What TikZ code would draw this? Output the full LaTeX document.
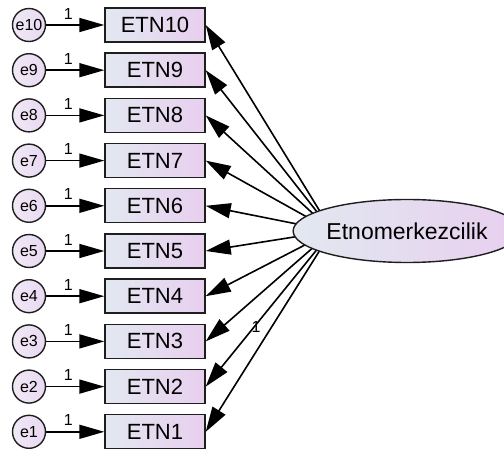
\documentclass[tikz,border=0pt]{standalone}
\usepackage{fontspec}
\setmainfont{Liberation Sans}
\usetikzlibrary{positioning,arrows.meta,shapes.geometric,backgrounds}
\definecolor{etnBlue}{HTML}{E2E8F0}
\definecolor{etnPink}{HTML}{E8CFEF}
\definecolor{errFill}{HTML}{E8D9F1}
\definecolor{lineGray}{HTML}{1E1E1E}

\tikzset{
  item/.style={rectangle, draw=lineGray, line width=1.4pt, minimum width=100pt, minimum height=34pt,
    inner sep=0pt, left color=etnBlue, right color=etnPink, font=\fontsize{22}{22}\selectfont},
  err/.style={circle, draw=lineGray, line width=1.4pt, minimum size=33pt, inner sep=0pt,
    left color=errFill!60!white, right color=errFill, font=\fontsize{16}{16}\selectfont},
  factor/.style={ellipse, draw=lineGray, line width=1.4pt, minimum width=191pt, minimum height=63pt,
    inner sep=0pt, left color=etnBlue, right color=etnPink, font=\fontsize{23}{23}\selectfont},
  load/.style={-{Triangle[length=25pt,width=15pt]}, line width=1.6pt, draw=black},
  resid/.style={-{Triangle[length=25pt,width=14pt]}, line width=1.6pt, draw=black},
  one/.style={font=\fontsize{16}{16}\selectfont, inner sep=1pt},
}

\begin{document}
\begin{tikzpicture}[x=1pt, y=1pt, node distance=45.2pt]
  \useasboundingbox (0,0) rectangle (504,-454);

  % indicators
  \node[item] (etn10) at (155,-25) {ETN10};
  \node[item] (etn9) [below of = etn10] {ETN9};
  \node[item] (etn8) [below of = etn9] {ETN8};
  \node[item] (etn7) [below of = etn8] {ETN7};
  \node[item] (etn6) [below of = etn7] {ETN6};
  \node[item] (etn5) [below of = etn6] {ETN5};
  \node[item] (etn4) [below of = etn5] {ETN4};
  \node[item] (etn3) [below of = etn4] {ETN3};
  \node[item] (etn2) [below of = etn3] {ETN2};
  \node[item] (etn1) [below of = etn2] {ETN1};

  % error terms
  \node[err] (e10) [left of = etn10, node distance=126pt] {e10};
  \node[err] (e9) [left of = etn9, node distance=126pt] {e9};
  \node[err] (e8) [left of = etn8, node distance=126pt] {e8};
  \node[err] (e7) [left of = etn7, node distance=126pt] {e7};
  \node[err] (e6) [left of = etn6, node distance=126pt] {e6};
  \node[err] (e5) [left of = etn5, node distance=126pt] {e5};
  \node[err] (e4) [left of = etn4, node distance=126pt] {e4};
  \node[err] (e3) [left of = etn3, node distance=126pt] {e3};
  \node[err] (e2) [left of = etn2, node distance=126pt] {e2};
  \node[err] (e1) [left of = etn1, node distance=126pt] {e1};

  % latent factor
  \node[factor] (etno) at (407,-231) {Etnomerkezcilik};
  \coordinate (hub) at (332,-231);

  \path
    (e10) edge[resid] node[one, pos=.38, above=4pt] {1} (etn10)
    (e9) edge[resid] node[one, pos=.38, above=4pt] {1} (etn9)
    (e8) edge[resid] node[one, pos=.38, above=4pt] {1} (etn8)
    (e7) edge[resid] node[one, pos=.38, above=4pt] {1} (etn7)
    (e6) edge[resid] node[one, pos=.38, above=4pt] {1} (etn6)
    (e5) edge[resid] node[one, pos=.38, above=4pt] {1} (etn5)
    (e4) edge[resid] node[one, pos=.38, above=4pt] {1} (etn4)
    (e3) edge[resid] node[one, pos=.38, above=4pt] {1} (etn3)
    (e2) edge[resid] node[one, pos=.38, above=4pt] {1} (etn2)
    (e1) edge[resid] node[one, pos=.38, above=4pt] {1} (etn1)
  ;

  \begin{scope}[on background layer]
    \path
      (hub) edge[load] (etn10.east)
      (hub) edge[load] (etn9.east)
      (hub) edge[load] (etn8.east)
      (hub) edge[load] (etn7.east)
      (hub) edge[load] (etn6.east)
      (hub) edge[load] (etn5.east)
      (hub) edge[load] (etn4.east)
      (hub) edge[load] (etn3.east)
      (hub) edge[load] (etn2.east)
      (hub) edge[load] node[one, pos=.48, left=9pt] {1} (etn1.east)
    ;
  \end{scope}
\end{tikzpicture}
\end{document}
